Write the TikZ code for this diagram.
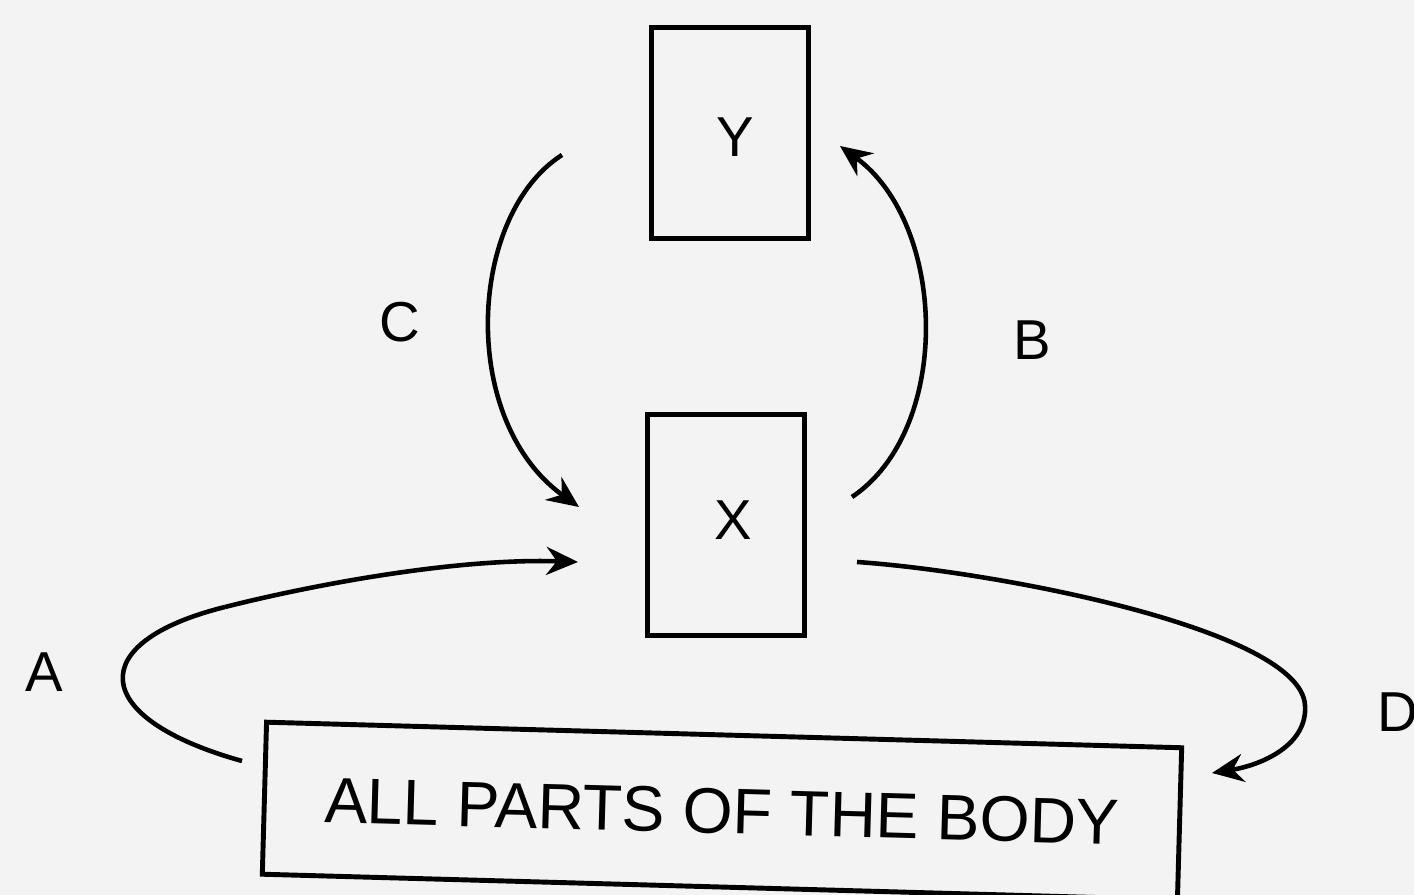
\documentclass[tikz,border=0pt]{standalone}
\usepackage{fontspec}
\setmainfont{Liberation Sans}
\usetikzlibrary{arrows.meta}
\definecolor{paper}{HTML}{F3F3F3}
\begin{document}
\begin{tikzpicture}[x=0.01cm,y=-0.01cm,
  boxn/.style={draw=black,line width=1.4pt,inner sep=0pt,text depth=0pt},
  lbl/.style={font=\fontsize{16}{19}\selectfont,inner sep=0pt},
  conn/.style={line width=1.3pt,-{Stealth[length=9pt,width=8pt,inset=3pt]}},
  plain/.style={line width=1.3pt}]
\useasboundingbox (0,0) rectangle (1414,895);
\clip (0,0) rectangle (1414,895);
\fill[paper] (0,0) rectangle (1414,895);
% boxes
\node[boxn,minimum width=1.56cm,minimum height=2.10cm] (Y) at (730,133) {};
\node[lbl] (Ylab) at (735,137) {Y};
\node[boxn,minimum width=1.56cm,minimum height=2.20cm] (X) at (726,525) {};
\node[lbl] (Xlab) at (733,520) {X};
\node[boxn,rotate=-1.6,minimum width=9.15cm,minimum height=1.52cm,
      font=\fontsize{18.3}{22}\selectfont] (body) at (722,811) {ALL PARTS OF THE BODY};
% connector end points
\coordinate (cS) at (562,155);
\coordinate (cE) at (579,507);
\coordinate (bS) at (852,497);
\coordinate (bE) at (840,146);
\coordinate (aS) at (242,761);
\coordinate (aM) at (225,607);
\coordinate (aE) at (578,562);
\coordinate (dS) at (857,562);
\coordinate (dM) at (1305,705);
\coordinate (dE) at (1212,773);
% C
\draw[conn] (cS) .. controls (468,215) and (458,420) .. (cE);
% B
\draw[conn] (bS) .. controls (952,430) and (948,225) .. (bE);
% A
\draw[plain] (aS) .. controls (88,718) and (84,642) .. (aM);
\draw[conn] (aM) .. controls (320,583) and (460,558) .. (aE);
% D
\draw[plain] (dS) .. controls (1000,572) and (1300,630) .. (dM);
\draw[conn] (dM) .. controls (1308,745) and (1262,765) .. (dE);
% labels
\node[lbl] (A) at (44,672) {A};
\node[lbl] (C) at (400,322) {C};
\node[lbl] (B) at (1032,340) {B};
\node[lbl,anchor=west] (D) at (1377,712) {D};
\end{tikzpicture}
\end{document}
